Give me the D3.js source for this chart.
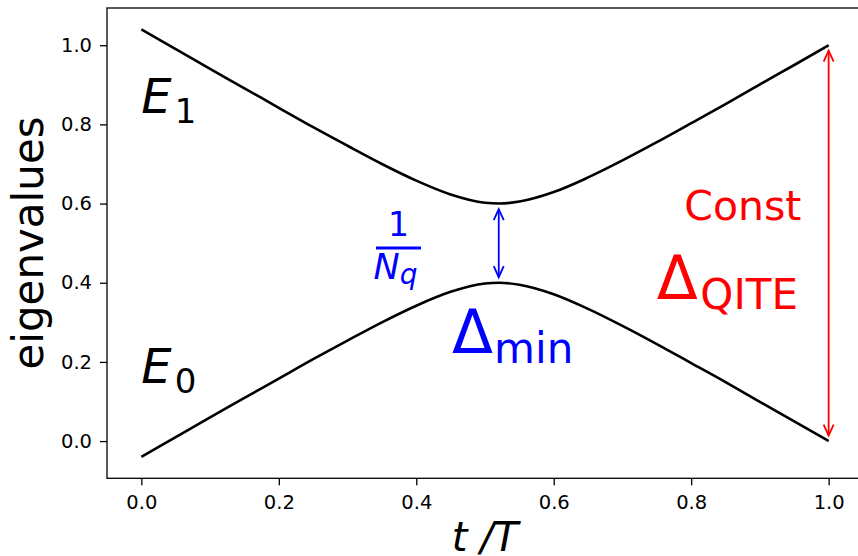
<!DOCTYPE html>
<html>
<head>
<meta charset="utf-8">
<script src="https://cdn.jsdelivr.net/npm/d3@7"></script>
<style>
  body { margin: 0; background: #fff; }
  text { font-family: "DejaVu Sans", sans-serif; }
</style>
</head>
<body>
<svg id="chart" width="858" height="556"></svg>
<script>
// values
var tValues = [0, 0.05, 0.1, 0.15, 0.2, 0.25, 0.3, 0.35, 0.4, 0.45, 0.5, 0.52,
  0.55, 0.6, 0.65, 0.7, 0.75, 0.8, 0.85, 0.9, 0.95, 1.0];
var upperLevel = [1.040, 0.990, 0.940, 0.891, 0.842, 0.793, 0.746, 0.700, 0.658, 0.623, 0.602, 0.600,
  0.605, 0.629, 0.666, 0.709, 0.755, 0.803, 0.851, 0.901, 0.950, 1.000];
var lowerLevel = [-0.040, 0.010, 0.060, 0.109, 0.158, 0.207, 0.254, 0.300, 0.342, 0.377, 0.398, 0.400,
  0.395, 0.371, 0.334, 0.291, 0.245, 0.197, 0.149, 0.099, 0.050, 0.000];
var xTicks = [0, 0.2, 0.4, 0.6, 0.8, 1.0];
var yTicks = [0, 0.2, 0.4, 0.6, 0.8, 1.0];
var gapAt = 0.52;     // where the small gap arrow sits
var constAt = 1.0;    // where the big gap arrow sits

var svg = d3.select("#chart");

var x = d3.scaleLinear().domain([-0.05, 1.05]).range([107, 863]);
var y = d3.scaleLinear().domain([-0.094, 1.094]).range([478.3, 8]);

// axes
var xAxis = svg.append("g").attr("transform", "translate(0,478.3)")
  .call(d3.axisBottom(x).tickValues(xTicks).tickFormat(d3.format(".1f")).tickSize(7).tickPadding(10));
var yAxis = svg.append("g").attr("transform", "translate(107,0)")
  .call(d3.axisLeft(y).tickValues(yTicks).tickFormat(d3.format(".1f")).tickSize(7).tickPadding(8));
svg.selectAll(".domain").remove();
svg.selectAll(".tick line").attr("stroke", "#000").attr("stroke-width", 1.3);
svg.selectAll(".tick text").attr("font-size", 19.5).attr("fill", "#000")
  .attr("font-family", "DejaVu Sans");

// frame
svg.append("rect")
  .attr("x", x(-0.05)).attr("y", y(1.094))
  .attr("width", x(1.05) - x(-0.05)).attr("height", y(-0.094) - y(1.094))
  .attr("fill", "none").attr("stroke", "#000").attr("stroke-width", 1.3);

// the two levels
var line = d3.line().curve(d3.curveMonotoneX)
  .x(function(d, i) { return x(tValues[i]); })
  .y(function(d) { return y(d); });

[upperLevel, lowerLevel].forEach(function(level) {
  svg.append("path").datum(level)
    .attr("d", line)
    .attr("fill", "none").attr("stroke", "#000").attr("stroke-width", 2.6);
});

// double arrow with open heads
function doubleArrow(t, vTop, vBottom, color) {
  var px = x(t), shrink = 5.5, headLen = 11, headHalf = 5;
  var y1 = y(vTop) + shrink, y2 = y(vBottom) - shrink;
  var g = svg.append("g").attr("stroke", color).attr("fill", "none").attr("stroke-width", 1.8);
  g.append("line").attr("x1", px).attr("x2", px).attr("y1", y1).attr("y2", y2);
  g.append("path").attr("d", "M" + (px - headHalf) + "," + (y1 + headLen) + "L" + px + "," + y1 + "L" + (px + headHalf) + "," + (y1 + headLen));
  g.append("path").attr("d", "M" + (px - headHalf) + "," + (y2 - headLen) + "L" + px + "," + y2 + "L" + (px + headHalf) + "," + (y2 - headLen));
}

var gi = tValues.indexOf(gapAt), ci = tValues.indexOf(constAt);
doubleArrow(gapAt, upperLevel[gi], lowerLevel[gi], "#0000ff");
doubleArrow(constAt, upperLevel[ci], lowerLevel[ci], "#ff0000");

// level labels
function levelLabel(t, v, sub) {
  var txt = svg.append("text").attr("x", x(t)).attr("y", y(v)).attr("fill", "#000");
  txt.append("tspan").attr("font-size", 48).attr("font-style", "italic").text("E");
  txt.append("tspan").attr("font-size", 34).attr("dx", 3).attr("dy", 10).text(sub);
}
levelLabel(0, 0.829, "1");
levelLabel(0, 0.147, "0");

// 1/N_q fraction
var fx = 398.5;
svg.append("text").attr("x", fx).attr("y", 236).attr("text-anchor", "middle")
  .attr("font-size", 33).attr("fill", "#0000ff").text("1");
svg.append("line").attr("x1", 376).attr("x2", 421).attr("y1", 248).attr("y2", 248)
  .attr("stroke", "#0000ff").attr("stroke-width", 3);
var nq = svg.append("text").attr("x", 373.5).attr("y", 279.3).attr("fill", "#0000ff").attr("font-style", "italic");
nq.append("tspan").attr("font-size", 35).text("N");
nq.append("tspan").attr("font-size", 28).attr("dx", 0).attr("dy", 5).text("q");

// delta labels
function deltaLabel(t, v, sub, color, dx) {
  var txt = svg.append("text").attr("x", x(t)).attr("y", y(v)).attr("fill", color);
  txt.append("tspan").attr("font-size", 60).text("\u0394");
  txt.append("tspan").attr("font-size", 42).attr("dx", dx).attr("dy", 10).text(sub);
}
deltaLabel(0.452, 0.2225, "min", "#0000ff", 1);
deltaLabel(0.750, 0.359, "QITE", "#ff0000", 2.5);

svg.append("text").attr("x", x(0.790)).attr("y", y(0.5585))
  .attr("font-size", 41).attr("fill", "#ff0000").text("Const");

// axis labels
svg.append("text").attr("x", 485).attr("y", 550.5).attr("text-anchor", "middle")
  .attr("font-size", 40).attr("font-style", "italic").attr("fill", "#000")
  .attr("xml:space", "preserve").text("t /T");
svg.append("text").attr("transform", "translate(43,243) rotate(-90)")
  .attr("text-anchor", "middle").attr("font-size", 42).attr("fill", "#000")
  .text("eigenvalues");
</script>
</body>
</html>
